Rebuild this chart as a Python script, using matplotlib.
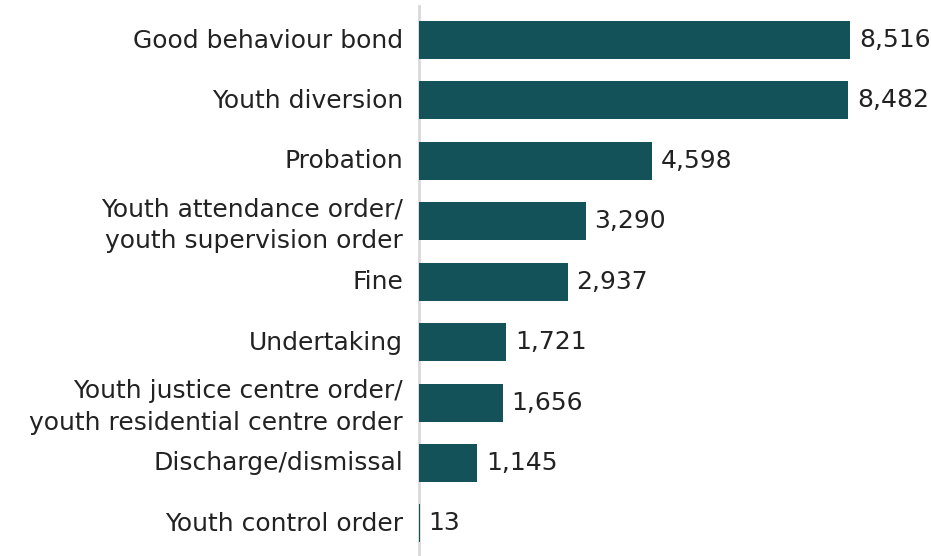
import matplotlib
matplotlib.use("Agg")
import matplotlib.pyplot as plt
import matplotlib.transforms as mtransforms

categories = [
    "Good behaviour bond",
    "Youth diversion",
    "Probation",
    "Youth attendance order/\nyouth supervision order",
    "Fine",
    "Undertaking",
    "Youth justice centre order/\nyouth residential centre order",
    "Discharge/dismissal",
    "Youth control order",
]
values = [8516, 8482, 4598, 3290, 2937, 1721, 1656, 1145, 13]

plt.rcParams["font.family"] = ["DejaVu Sans"]

fig = plt.figure(figsize=(9.31, 5.56), dpi=100)
ax = fig.add_axes([419 / 931, 0, 1 - 419 / 931, 550 / 556])

bar_color = "#14525A"
text_color = "#222222"
fs = 18
pos = list(range(len(categories)))
ax.barh(pos, values, height=0.63, color=bar_color)

for p, v in zip(pos, values):
    ax.text(v + 175, p, f"{v:,}", va="center", ha="left", fontsize=fs, color=text_color)

ax.set_xlim(0, 10116)
ax.set_ylim(8.54, -0.563)
ax.set_yticks(pos)
ax.set_yticklabels(categories, fontsize=fs, color=text_color, ha="right", linespacing=1.4)
ax.tick_params(axis="y", length=0, pad=11.5)
ax.set_xticks([])

# nudge category labels up slightly so they sit centred on the bars
shift = mtransforms.ScaledTranslation(0, 2 / 100, fig.dpi_scale_trans)
for lbl in ax.get_yticklabels():
    lbl.set_transform(lbl.get_transform() + shift)

for side in ["top", "right", "bottom"]:
    ax.spines[side].set_visible(False)
ax.spines["left"].set_color("#d9d9d9")
ax.spines["left"].set_linewidth(2)
ax.spines["left"].set_zorder(0)

fig.savefig("out.png", dpi=100)
